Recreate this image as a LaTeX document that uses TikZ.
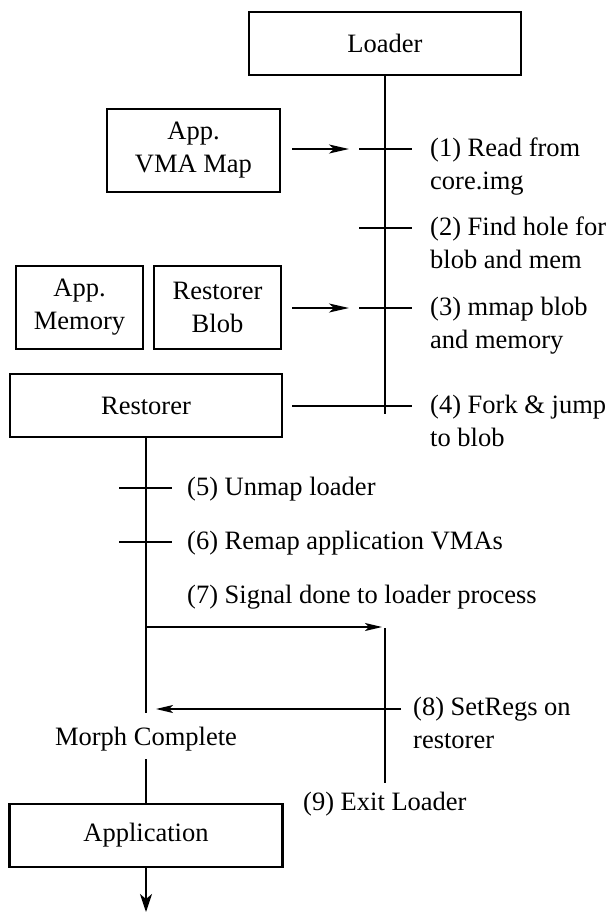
\documentclass[tikz,border=0pt]{standalone}
\usepackage{fontspec}
\setmainfont{Liberation Serif}
\usetikzlibrary{arrows.meta}
\newcommand\twolines[2]{\vtop{\hbox{#1}\hbox{#2}}}
\begin{document}
\begin{tikzpicture}[x=1pt,y=-1pt,
  font=\fontsize{26.5}{33}\selectfont,
  box/.style={draw,line width=2.2pt,inner sep=0pt,align=center},
  life/.style={line width=2pt},
  tick/.style={line width=2pt},
  arr/.style={line width=1.5pt,-{Stealth[length=20pt,width=9pt,inset=5pt]}},
  sig/.style={line width=1.4pt,-{Stealth[length=17pt,width=8pt,inset=4pt]}},
  lbl/.style={anchor=base west,inner sep=0pt}]
\useasboundingbox (0,0) rectangle (608,914);
% boxes
\node[box,minimum width=272pt,minimum height=63pt] (loader) at (385,43.5) {Loader};
\node[box,minimum width=173pt,minimum height=83pt] (vma) at (193.5,150.5) {App.\\VMA Map};
\node[box,minimum width=127pt,minimum height=83pt] (appmem) at (79.5,307.5) {App.\\Memory};
\node[box,minimum width=127pt,minimum height=83pt] (blob) at (217.5,307.5) {Restorer\\Blob};
\node[box,minimum width=272pt,minimum height=63pt] (restorer) at (146,405.5) {Restorer};
\node[box,minimum width=273pt,minimum height=63pt] (app) at (146,835.5) {Application};
\node[anchor=base,inner xsep=0pt,inner ysep=14pt,text height=18pt,text depth=0pt] (morph) at (146,745) {Morph Complete};
% coordinates on the lifelines
\coordinate (lend) at (385,414);
\coordinate (t1) at (385,149);
\coordinate (t2) at (385,228);
\coordinate (t3) at (385,308);
\coordinate (t4) at (385,406);
\coordinate (t5) at (146,488);
\coordinate (t6) at (146,542);
\coordinate (s7) at (146,627);
\coordinate (l2top) at (385,628);
\coordinate (l2bot) at (385,783);
\coordinate (s8) at (401,709);
\coordinate (e8) at (146,709);
\coordinate (append) at (146,912);
% lifelines
\draw[life] (loader.south) -- (lend);
\draw[life] (restorer.south) -- (morph.north);
\draw[life] (morph.south) -- (app.north);
\draw[life] (l2top) -- (l2bot);
\draw[life,-{Stealth[length=18pt,width=12pt,inset=5pt]}] (app.south) -- (append);
% ticks
\foreach \t in {t1,t2,t3} \draw[tick] ([xshift=-26pt]\t) -- ([xshift=27pt]\t);
\foreach \t in {t5,t6} \draw[tick] ([xshift=-27pt]\t) -- ([xshift=26pt]\t);
% arrows into loader
\draw[arr] ([xshift=11pt]vma.east |- t1) -- ([xshift=-36pt]t1);
\draw[arr] ([xshift=10pt]blob.east |- t3) -- ([xshift=-36pt]t3);
\draw[tick] ([xshift=9pt]restorer.east |- t4) -- ([xshift=27pt]t4);
% signals
\draw[sig] (s7) -- ([xshift=-3pt]l2top |- s7);
\draw[sig] (s8) -- ([xshift=10pt]e8);
% labels
\node[lbl] (l1) at ([xshift=45pt,yshift=-7pt]t1) {\twolines{(1) Read from}{core.img}};
\node[lbl] (l2) at ([xshift=45pt,yshift=-7pt]t2) {\twolines{(2) Find hole for}{blob and mem}};
\node[lbl] (l3) at ([xshift=45pt,yshift=-7pt]t3) {\twolines{(3) mmap blob}{and memory}};
\node[lbl] (l4) at ([xshift=45pt,yshift=-7pt]t4) {\twolines{(4) Fork \& jump}{to blob}};
\node[lbl] (l5) at ([xshift=41pt,yshift=-7pt]t5) {(5) Unmap loader};
\node[lbl] (l6) at ([xshift=41pt,yshift=-7pt]t6) {(6) Remap application VMAs};
\node[lbl] (l7) at (187,603) {(7) Signal done to loader process};
\node[lbl] (l8) at (413,715) {\twolines{(8) SetRegs on}{restorer}};
\node[lbl] (l9) at (303,810) {(9) Exit Loader};
\end{tikzpicture}
\end{document}
